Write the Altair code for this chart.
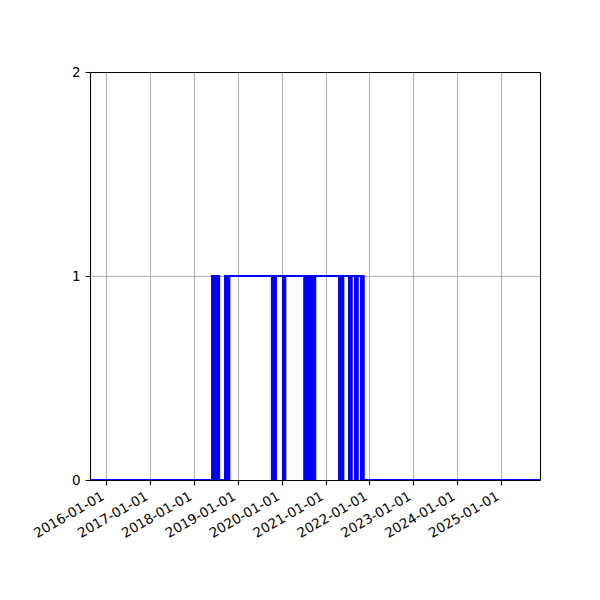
import altair as alt
import pandas as pd

# change points: value holds from each date until the next date
change_dates = [
    "2015-08-20",
    # burst mid 2018
    "2018-06-01", "2018-06-05", "2018-06-09", "2018-06-13", "2018-06-17", "2018-06-21",
    "2018-06-25", "2018-06-29", "2018-07-03", "2018-07-07", "2018-07-11", "2018-07-15",
    "2018-07-19", "2018-07-23", "2018-07-27", "2018-07-30",
    # burst autumn 2018, then stays on
    "2018-09-17", "2018-09-21", "2018-09-25", "2018-09-29", "2018-10-03", "2018-10-11",
    "2018-10-15", "2018-10-19", "2018-10-23",
    # dips autumn 2019
    "2019-10-12", "2019-10-16", "2019-10-20", "2019-10-24", "2019-11-02", "2019-11-06",
    "2019-11-10", "2019-11-15",
    # dip Jan 2020
    "2020-01-13", "2020-01-17", "2020-01-21", "2020-01-25", "2020-01-29", "2020-02-01",
    # burst summer 2020
    "2020-07-07", "2020-07-11", "2020-07-15", "2020-07-19", "2020-07-23", "2020-07-27",
    "2020-07-31", "2020-08-04", "2020-08-08", "2020-08-12", "2020-08-16", "2020-08-20",
    "2020-08-24", "2020-08-28", "2020-09-01", "2020-09-05", "2020-09-09", "2020-09-13",
    "2020-09-17", "2020-09-21", "2020-09-25", "2020-09-29", "2020-10-03", "2020-10-07",
    # dips 2021
    "2021-04-23", "2021-04-27", "2021-05-01", "2021-05-05", "2021-05-09", "2021-05-13",
    "2021-05-17", "2021-05-21", "2021-05-25", "2021-05-29",
    "2021-07-15", "2021-07-19", "2021-07-23", "2021-07-27", "2021-07-31", "2021-08-07",
    "2021-09-03", "2021-09-08", "2021-09-13", "2021-09-18", "2021-09-22", "2021-09-26",
    "2021-10-23", "2021-10-27", "2021-10-31", "2021-11-04", "2021-11-08", "2021-11-12",
    "2021-11-15",
    "2025-11-21",
]
change_values = [
    0,
    1, 0, 1, 0, 1, 0, 1, 0, 1, 0, 1, 0, 1, 0, 1, 0,
    1, 0, 1, 0, 1, 0, 1, 0, 1,
    0, 1, 0, 1, 0, 1, 0, 1,
    0, 1, 0, 1, 0, 1,
    0, 1, 0, 1, 0, 1, 0, 1, 0, 1, 0, 1, 0, 1, 0, 1, 0, 1, 0, 1, 0, 1, 0, 1,
    0, 1, 0, 1, 0, 1, 0, 1, 0, 1,
    0, 1, 0, 1, 0, 1,
    0, 1, 0, 1, 0, 1,
    0, 1, 0, 1, 0, 1, 0,
    0,
]

tick_years = [2016, 2017, 2018, 2019, 2020, 2021, 2022, 2023, 2024, 2025]
y_domain = [0, 2]
x_start = (2015, 8, 20)
x_end = (2025, 11, 21)

df = pd.DataFrame({"date": change_dates, "value": change_values})

font = "DejaVu Sans"

x_scale = alt.Scale(
    type="utc",
    domain=[
        alt.DateTime(year=x_start[0], month=x_start[1], date=x_start[2], utc=True),
        alt.DateTime(year=x_end[0], month=x_end[1], date=x_end[2], utc=True),
    ],
    nice=False,
)
y_scale = alt.Scale(domain=y_domain, nice=False)

x_axis = alt.Axis(
    values=[alt.DateTime(year=y, month=1, date=1, utc=True) for y in tick_years],
    format="%Y-%m-%d",
    labelAngle=330,
    labelAlign="right",
    labelBaseline="top",
    labelPadding=4,
    labelOffset=-7,
    labelFont=font,
    labelFontSize=13.5,
    labelColor="black",
    tickSize=4.9,
    tickWidth=1.1,
    tickColor="black",
    domainColor="black",
    domainWidth=1.1,
    grid=True,
    gridColor="#b0b0b0",
    gridWidth=1.1,
    title=None,
    labelOverlap=False,
)
y_axis = alt.Axis(
    tickCount=2,
    format="d",
    labelFont=font,
    labelFontSize=13.5,
    labelColor="black",
    labelPadding=4.9,
    labelOverlap=False,
    tickSize=4.9,
    tickWidth=1.1,
    tickColor="black",
    domainColor="black",
    domainWidth=1.1,
    grid=True,
    gridColor="#b0b0b0",
    gridWidth=1.1,
    title=None,
)

line = (
    alt.Chart(df)
    .mark_line(color="#0000ff", strokeWidth=2, interpolate="step-after", clip=True)
    .encode(
        x=alt.X("date:T", scale=x_scale, axis=x_axis),
        y=alt.Y("value:Q", scale=y_scale, axis=y_axis),
    )
)

frame = (
    alt.Chart(df)
    .mark_line(opacity=0)
    .encode(
        x=alt.X(
            "date:T",
            scale=x_scale,
            axis=alt.Axis(orient="top", labels=False, ticks=False, grid=False,
                          domainColor="black", domainWidth=1.1, title=None),
        ),
        y=alt.Y(
            "value:Q",
            scale=y_scale,
            axis=alt.Axis(orient="right", labels=False, ticks=False, grid=False,
                          domainColor="black", domainWidth=1.1, title=None),
        ),
    )
)

chart = (
    alt.layer(line, frame)
    .resolve_axis(x="independent", y="independent")
    .properties(
        width=450,
        height=408,
        autosize=alt.AutoSizeParams(type="none"),
        padding={"left": 82, "top": 64, "right": 50, "bottom": 110},
    )
    .configure_view(stroke="transparent")
    .configure(background="white")
)

chart.save("out.html", embed_options={"renderer": "svg", "actions": False})
